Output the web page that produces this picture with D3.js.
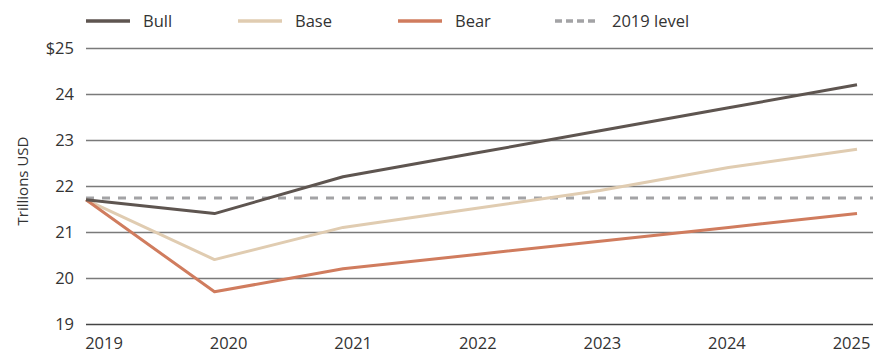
<!DOCTYPE html>
<html>
<head>
<meta charset="utf-8">
<script src="https://cdn.jsdelivr.net/npm/d3@7"></script>
<style>
  html, body { margin: 0; padding: 0; background: #fff; }
  svg { display: block; }
  text { font-family: "Open Sans", "Noto Sans", sans-serif; fill: #333; }
</style>
</head>
<body>
<svg id="chart" width="881" height="356"></svg>
<script>
const years = ["2019", "2020", "2021", "2022", "2023", "2024", "2025"];
const bull = [21.7, 21.4, 22.2, 22.7, 23.2, 23.7, 24.2];
const base = [21.7, 20.4, 21.1, 21.5, 21.9, 22.4, 22.8];
const bear = [21.7, 19.7, 20.2, 20.5, 20.8, 21.1, 21.4];
const level2019 = 21.74;
const yTicks = [19, 20, 21, 22, 23, 24, 25];
const yTickLabels = ["19", "20", "21", "22", "23", "24", "$25"];
const seriesNames = ["Bull", "Base", "Bear"];
const levelName = "2019 level";
const yTitle = "Trillions USD";

const colors = { Bull: "#5e5550", Base: "#e0ccb1", Bear: "#d07c5e" };
const levelColor = "#a3a3a5";

const svg = d3.select("#chart");
const mLeft = 86, mRight = 873, mTop = 48, mBottom = 324;

const x = d3.scalePoint().domain(years).range([86, 857]);
const xLabel = d3.scalePoint().domain(years).range([103.5, 851]);
const y = d3.scaleLinear().domain([19, 25]).range([mBottom, mTop]);

// gridlines
const yAxis = d3.axisLeft(y).tickValues(yTicks)
  .tickSize(-(mRight - mLeft)).tickPadding(12)
  .tickFormat((d, i) => yTickLabels[i]);
const gy = svg.append("g").attr("transform", `translate(${mLeft},0)`).call(yAxis);
gy.select(".domain").remove();
gy.selectAll(".tick line").attr("stroke", "#7a7a7a").attr("stroke-width", 1.3);
gy.selectAll(".tick text").attr("x", -12).style("font-size", "16.5px").attr("fill", "#333");
gy.selectAll(".tick").filter(d => d === 19).select("line").attr("stroke", "#444");

// x axis labels
const xAxis = d3.axisBottom(xLabel).tickSize(0).tickPadding(0);
const gx = svg.append("g").attr("transform", `translate(0,${mBottom + 13})`).call(xAxis);
gx.select(".domain").remove();
gx.selectAll(".tick text").style("font-size", "16.5px").attr("fill", "#333").attr("dy", "0.71em");

// y title
svg.append("text")
  .attr("transform", `translate(28,181) rotate(-90)`)
  .attr("text-anchor", "middle")
  .style("font-size", "15px")
  .text(yTitle);

// 2019 level
svg.append("line")
  .attr("x1", mLeft).attr("x2", mRight)
  .attr("y1", y(level2019)).attr("y2", y(level2019))
  .attr("stroke", levelColor).attr("stroke-width", 3)
  .attr("stroke-dasharray", "8,8");

// lines
const line = d3.line().x((d, i) => x(years[i])).y(d => y(d));
const data = { Bull: bull, Base: base, Bear: bear };
["Base", "Bear", "Bull"].forEach(name => {
  svg.append("path")
    .datum(data[name])
    .attr("d", line)
    .attr("fill", "none")
    .attr("stroke", colors[name])
    .attr("stroke-width", 3)
    .attr("stroke-linejoin", "round");
});

// legend
const legendItems = [
  { name: "Bull", x: 86, dash: null, color: colors.Bull },
  { name: "Base", x: 238, dash: null, color: colors.Base },
  { name: "Bear", x: 398, dash: null, color: colors.Bear },
  { name: levelName, x: 555, dash: "7,4", color: levelColor }
];
const lg = svg.append("g");
legendItems.forEach(it => {
  lg.append("line")
    .attr("x1", it.x).attr("x2", it.x + 44)
    .attr("y1", 21).attr("y2", 21)
    .attr("stroke", it.color).attr("stroke-width", 3.5)
    .attr("stroke-dasharray", it.dash);
  lg.append("text")
    .attr("x", it.x + 57).attr("y", 21).attr("dy", "0.35em")
    .style("font-size", "16.5px")
    .text(it.name);
});
</script>
</body>
</html>
